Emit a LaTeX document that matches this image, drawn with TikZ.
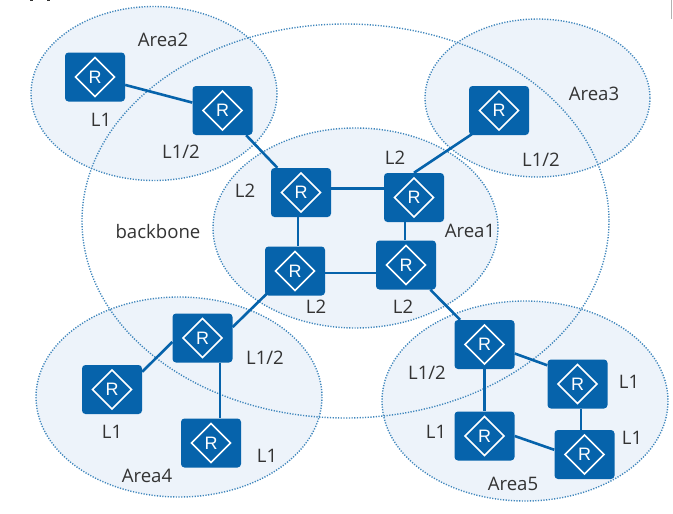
\documentclass[tikz,border=0pt]{standalone}
\usepackage{fontspec}
\setmainfont{Open Sans}
\newfontfamily\routerfont{Liberation Sans}
\definecolor{areafill}{HTML}{EDF3FA}
\definecolor{arealine}{HTML}{3F86BC}
\definecolor{routerblue}{HTML}{0663AB}
\definecolor{labelink}{HTML}{333333}
\tikzset{
  areazone/.style={draw=arealine,line width=1.4pt,dash pattern=on 1.2pt off 1.5pt},
  routerbox/.style={rectangle,rounded corners=3.5pt,fill=routerblue,minimum width=60pt,minimum height=49pt,inner sep=0pt,
    text=white,font=\routerfont\fontsize{18}{18}\selectfont,
    path picture={\draw[white,line width=1.6pt,line join=miter,sharp corners]
      ([xshift=19.5pt]path picture bounding box.center) -- ([yshift=19.5pt]path picture bounding box.center)
      -- ([xshift=-19.5pt]path picture bounding box.center) -- ([yshift=-19.5pt]path picture bounding box.center) -- cycle;}},
  link/.style={draw=routerblue,line width=2.6pt},
  tag/.style={text=labelink,inner sep=0pt,font=\fontsize{18.6}{19}\selectfont}
}
\begin{document}
\begin{tikzpicture}[x=1pt,y=-1pt]
\useasboundingbox (0,0) rectangle (673,514);
% screenshot edge remnants
\fill[gray!60] (670.5,0) rectangle (672,19);
\fill[labelink] (30,0) rectangle (33,1);
\fill[labelink] (47,0) rectangle (50,1);
% area fills
\fill[areafill] (154,93.5) ellipse [x radius=123,y radius=87];
\fill[areafill] (537.5,98) ellipse [x radius=112.5,y radius=79];
\fill[areafill] (355.5,228) ellipse [x radius=142.5,y radius=100];
\fill[areafill] (179,397) ellipse [x radius=143,y radius=100];
\fill[areafill] (525,401) ellipse [x radius=143,y radius=100];
% outlines
\draw[areazone] (345.5,221) ellipse [x radius=263.5,y radius=197];
\draw[areazone] (154,93.5) ellipse [x radius=123,y radius=87];
\draw[areazone] (537.5,98) ellipse [x radius=112.5,y radius=79];
\draw[areazone] (355.5,228) ellipse [x radius=142.5,y radius=100];
\draw[areazone] (179,397) ellipse [x radius=143,y radius=100];
\draw[areazone] (525,401) ellipse [x radius=143,y radius=100];
% routers
\node[routerbox] (a2l) at (95,77) {R};
\node[routerbox] (a2r) at (222.5,110.5) {R};
\node[routerbox] (tl) at (301,192.5) {R};
\node[routerbox] (tr) at (414,197.5) {R};
\node[routerbox] (bl) at (295,271) {R};
\node[routerbox] (br) at (406,265) {R};
\node[routerbox] (a3) at (499,110.5) {R};
\node[routerbox] (a4t) at (202.5,338) {R};
\node[routerbox] (a4l) at (112,389.5) {R};
\node[routerbox] (a4b) at (211,443) {R};
\node[routerbox] (a5t) at (484.5,344.5) {R};
\node[routerbox] (a5r) at (577.5,384) {R};
\node[routerbox] (a5l) at (484.5,436) {R};
\node[routerbox] (a5b) at (584.5,454.5) {R};
% links
\draw[link] (a2l) -- (a2r);
\draw[link] (a2r) -- (tl);
\draw[link] ([yshift=4pt]tl.east) -- ([yshift=9pt]tr.west);
\draw[link] ([xshift=-3pt]tl.south) -- ([xshift=3pt]bl.north);
\draw[link] ([yshift=-2pt]bl.east) -- ([yshift=-8pt]br.west);
\draw[link] ([xshift=-9pt]tr.south) -- ([xshift=-1pt]br.north);
\draw[link] (tr.north) -- ([xshift=3pt,yshift=1pt]a3.south west);
\draw[link] ([xshift=2pt,yshift=2pt]bl.south west) -- ([yshift=11pt]a4t.east);
\draw[link] ([yshift=-4pt]a4t.west) -- ([yshift=-7pt]a4l.north east);
\draw[link] ([xshift=17.5pt]a4t.south) -- ([xshift=9pt]a4b.north);
\draw[link] (br) -- (a5t);
\draw[link] ([yshift=-9pt]a5t.east) -- ([yshift=-6pt]a5r.north west);
\draw[link] (a5t.south) -- (a5l.north);
\draw[link] ([xshift=3.5pt]a5r.south) -- ([xshift=-3.5pt]a5b.north);
\draw[link] (a5l.east) -- ([yshift=-20pt]a5b.north west);
% labels
\node[tag] (t1) at (163,40) {Area2};
\node[tag] (t2) at (101,120) {L1};
\node[tag] (t3) at (181,152) {L1/2};
\node[tag] (t4) at (245,191) {L2};
\node[tag] (t5) at (158,232) {backbone};
\node[tag] (t6) at (594,94) {Area3};
\node[tag] (t7) at (541,160) {L1/2};
\node[tag] (t8) at (395,158) {L2};
\node[tag] (t9) at (470,231) {Area1};
\node[tag] (t10) at (316,307) {L2};
\node[tag] (t11) at (403,307) {L2};
\node[tag] (t12) at (265,358) {L1/2};
\node[tag] (t13) at (112,432) {L1};
\node[tag] (t14) at (267,456) {L1};
\node[tag] (t15) at (147,476) {Area4};
\node[tag] (t16) at (427,373) {L1/2};
\node[tag] (t17) at (629,382) {L1};
\node[tag] (t18) at (436,432) {L1};
\node[tag] (t19) at (632,438) {L1};
\node[tag] (t20) at (513,484) {Area5};
\end{tikzpicture}
\end{document}
